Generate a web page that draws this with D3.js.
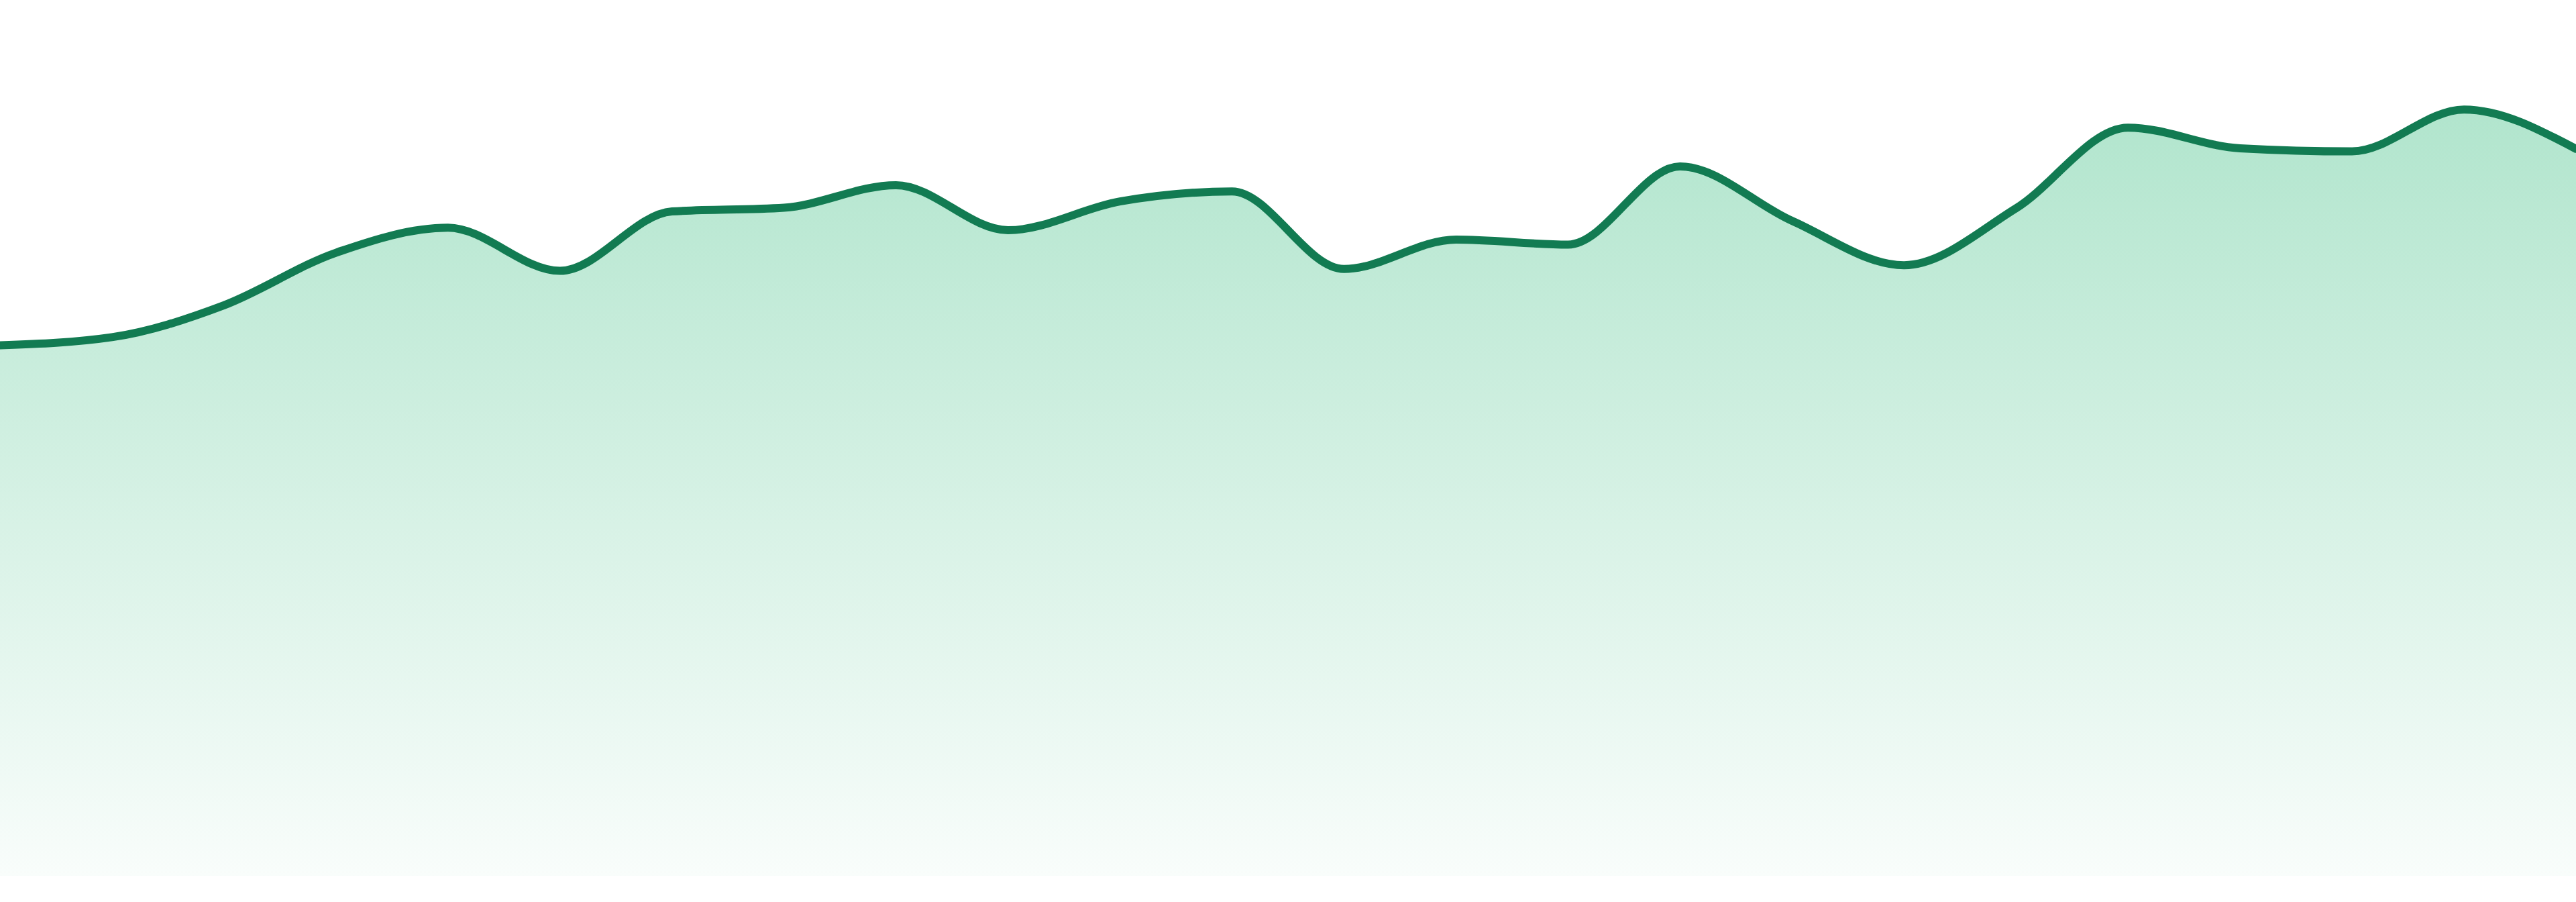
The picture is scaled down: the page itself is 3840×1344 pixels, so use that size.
<!DOCTYPE html>
<html>
<head>
<meta charset="utf-8">
<script src="https://cdn.jsdelivr.net/npm/d3@7"></script>
<style>
  html, body { margin: 0; padding: 0; background: #fff; }
  svg { display: block; }
</style>
</head>
<body>
<div id="chart"></div>
<script>
// значения ряда (читаются с картинки)
const points = [
  0, 1, 2, 3, 4, 5, 6, 7, 8, 9, 10, 11,
  12, 13, 14, 15, 16, 17, 18, 19, 20, 21, 22, 23
];
const values = [
  84.8, 86.1, 91.2, 99.6, 103.6, 96.7, 106.2, 106.8, 110.4, 103.2, 107.8, 109.4,
  97.0, 101.7, 100.9, 113.4, 104.7, 97.6, 106.7, 119.6, 116.3, 115.8, 122.5, 116.2
];
const yDomain = [0, 140];

const width = 3840;
const height = 1344;
const baseline = 1305;

const data = points.map((p, i) => ({ p: p, v: values[i] }));

const svg = d3.select('#chart')
  .append('svg')
  .attr('width', width)
  .attr('height', height);

const x = d3.scaleLinear()
  .domain(d3.extent(points))
  .range([0, width]);

const y = d3.scaleLinear()
  .domain(yDomain)
  .range([baseline, 0]);

// градиент заливки
const defs = svg.append('defs');
const grad = defs.append('linearGradient')
  .attr('id', 'fillGrad')
  .attr('gradientUnits', 'userSpaceOnUse')
  .attr('x1', 0).attr('x2', 0)
  .attr('y1', y(d3.max(values)))
  .attr('y2', y(0));
grad.append('stop').attr('offset', '0%').attr('stop-color', '#b1e5cd').attr('stop-opacity', 1);
grad.append('stop').attr('offset', '100%').attr('stop-color', '#b1e5cd').attr('stop-opacity', 0.08);

const area = d3.area()
  .x(d => x(d.p))
  .y0(y(0))
  .y1(d => y(d.v))
  .curve(d3.curveMonotoneX);

const line = d3.line()
  .x(d => x(d.p))
  .y(d => y(d.v))
  .curve(d3.curveMonotoneX);

svg.append('path')
  .datum(data)
  .attr('d', area)
  .attr('fill', 'url(#fillGrad)');

svg.append('path')
  .datum(data)
  .attr('d', line)
  .attr('fill', 'none')
  .attr('stroke', '#127b52')
  .attr('stroke-width', 12)
  .attr('stroke-linejoin', 'round')
  .attr('stroke-linecap', 'round');
</script>
</body>
</html>
